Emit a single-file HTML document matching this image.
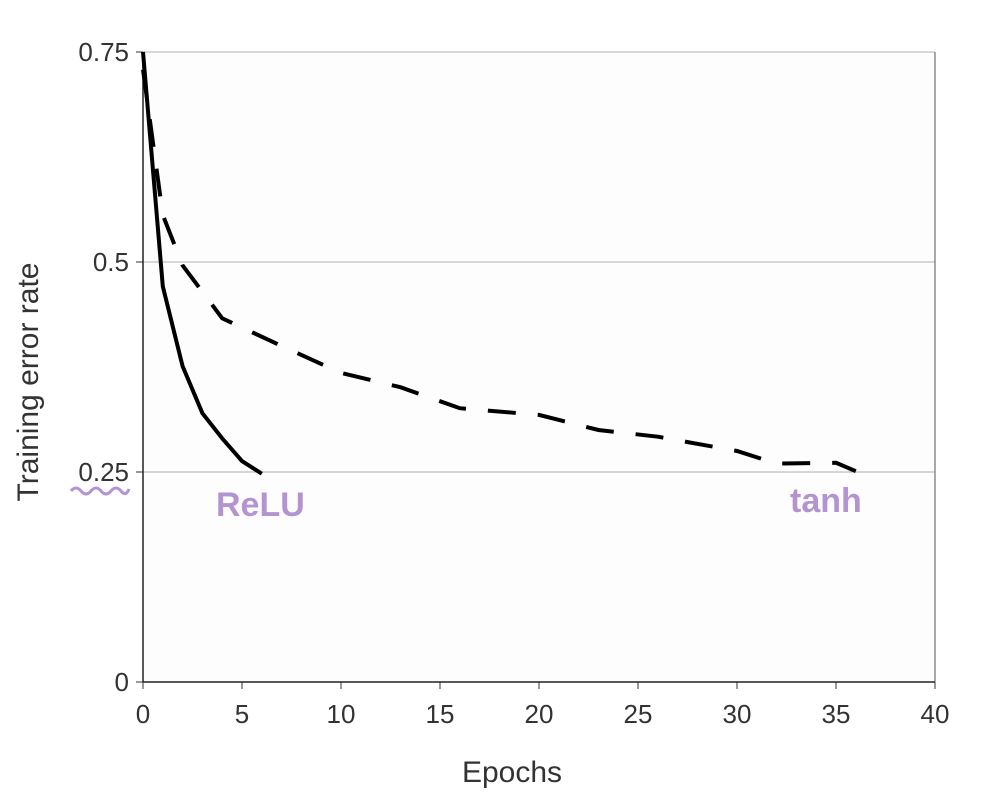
<!DOCTYPE html>
<html><head><meta charset="utf-8"><style>
body{margin:0;background:#fff;}
svg text{font-family:"Liberation Sans",Arial,sans-serif;}
</style></head><body>
<svg width="993" height="802" viewBox="0 0 993 802">
<rect x="143" y="52" width="792" height="630" fill="#fdfdfd"/>
<g id="grid"></g>
<g id="axes"></g>
<g id="series"></g>
<text x="512" y="782" font-size="30" fill="#333" text-anchor="middle">Epochs</text>
<text transform="translate(38,382) rotate(-90)" font-size="30" fill="#333" text-anchor="middle">Training error rate</text>
<path d="M71,491 q5,-6 10,0 t10,0 t10,0 t10,0 t10,0 t8,-2" fill="none" stroke="#b394d0" stroke-width="3"/>
<text x="216" y="516" font-size="34" font-weight="bold" fill="#b394d0" font-family="DejaVu Sans, sans-serif">ReLU</text>
<text x="790" y="512" font-size="34" font-weight="bold" fill="#b394d0" font-family="DejaVu Sans, sans-serif">tanh</text>
</svg>
<script>
const xTicks=[0,5,10,15,20,25,30,35,40];
const yTicks=[0,0.25,0.5,0.75];
const yTickLabels=["0","0.25","0.5","0.75"];
const reluX=[0,1,2,3,4,5,6];
const reluY=[0.75,0.471,0.376,0.320,0.290,0.263,0.248];
const tanhX=[0,1,2,4,7,10,13,16,20,23,26,30,32,35,36];
const tanhY=[0.729,0.556,0.496,0.433,0.400,0.368,0.351,0.326,0.318,0.300,0.292,0.275,0.260,0.261,0.251];
const NS="http://www.w3.org/2000/svg";
const X=v=>143+v*(792/40), Y=v=>682-v*(630/0.75);
function mk(t,a,p){const e=document.createElementNS(NS,t);for(const k in a)e.setAttribute(k,a[k]);p.appendChild(e);return e;}
const grid=document.getElementById('grid'),axes=document.getElementById('axes'),ser=document.getElementById('series');
yTicks.forEach((v,i)=>{
 if(v>0){const l=mk('line',{x1:143,x2:935,y1:Y(v),y2:Y(v),stroke:'#b0b0b0','stroke-width':1},grid);
 
 }
 const tk=mk('line',{x1:136,x2:143,y1:Y(v),y2:Y(v),stroke:'#333'},axes);
 
 
 const t=mk('text',{x:129,y:Y(v)+9,'font-size':26,fill:'#333','text-anchor':'end'},axes);t.textContent=yTickLabels[i];
 
 
});
xTicks.forEach(v=>{
 const tk=mk('line',{x1:X(v),x2:X(v),y1:682,y2:689,stroke:'#333'},axes);
 
 
 const t=mk('text',{x:X(v),y:723,'font-size':26,fill:'#333','text-anchor':'middle'},axes);t.textContent=v;
 
 
});
const ya=mk('line',{x1:143,x2:143,y1:52,y2:682,stroke:'#222','stroke-width':1.5},axes);


const xa=mk('line',{x1:143,x2:935,y1:682,y2:682,stroke:'#222','stroke-width':1.5},axes);


const rb=mk('line',{x1:935,x2:935,y1:52,y2:682,stroke:'#555','stroke-width':1},axes);


const pts=(xs,ys)=>xs.map((x,i)=>X(x).toFixed(1)+','+Y(ys[i]).toFixed(1)).join(' ');
const tl=mk('polyline',{points:pts(tanhX,tanhY),fill:'none',stroke:'#000','stroke-width':4,'stroke-dasharray':'28 22'},ser);


const rl=mk('polyline',{points:pts(reluX,reluY),fill:'none',stroke:'#000','stroke-width':4},ser);


</script>
</body></html>
